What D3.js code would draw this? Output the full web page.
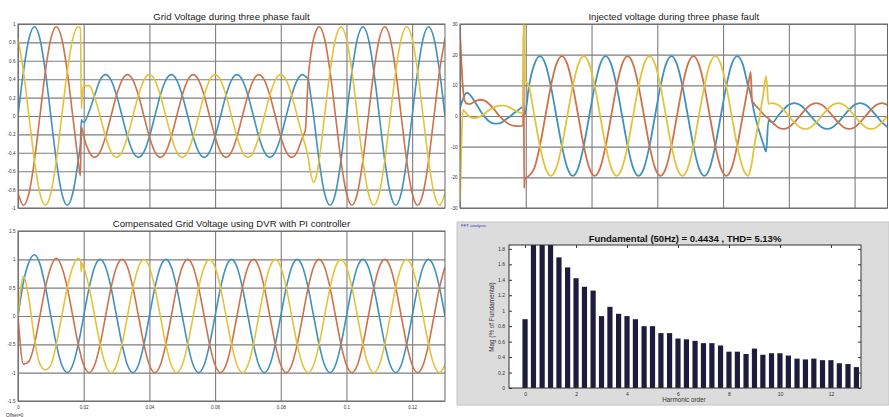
<!DOCTYPE html>
<html>
<head>
<meta charset="utf-8">
<script src="https://cdn.jsdelivr.net/npm/d3@7"></script>
<style>
  body { margin: 0; background: #fff; }
  svg { display: block; }
  text { font-family: "Liberation Sans", Arial, sans-serif; }
</style>
</head>
<body>
<svg id="chart" width="889" height="417"></svg>
<script>
// ---------- Grid voltage during three phase fault (pu), time in ms ----------
const gridT = [0, 1.67, 3.33, 5, 6.67, 8.33, 10, 11.67, 13.33, 15, 16.67, 18.33,
  19.0, 19.3, 19.6,
  20, 21.67, 23.33, 25, 26.67, 28.33, 30, 31.67, 33.33, 35, 36.67, 38.33,
  40, 41.67, 43.33, 45, 46.67, 48.33, 50, 51.67, 53.33, 55, 56.67, 58.33,
  60, 61.67, 63.33, 65, 66.67, 68.33, 70, 71.67, 73.33, 75, 76.67, 78.33,
  80, 81.67, 83.33, 85, 86.67,
  87.5, 88.33, 89.2, 90, 90.8, 91.67, 93.33, 95, 96.67, 98.33,
  100, 101.67, 103.33, 105, 106.67, 108.33, 110, 111.67, 113.33, 115, 116.67, 118.33,
  120, 121.67, 123.33, 125, 126.67, 128.33, 130];
const gridA = [0, .485, .84, .97, .84, .485, 0, -.485, -.84, -.97, -.84, -.485,
  -.30, -.04, -.06,
  -.07, .05, .225, .39, .45, .39, .225, 0, -.225, -.39, -.45, -.39,
  -.225, 0, .225, .39, .45, .39, .225, 0, -.225, -.39, -.45, -.39,
  -.225, 0, .225, .39, .45, .39, .225, 0, -.225, -.39, -.45, -.39,
  -.225, 0, .225, .39, .45,
  .43, .4, .2, 0, -.24, -.485, -.84, -.97, -.84, -.485,
  0, .485, .84, .97, .84, .485, 0, -.485, -.84, -.97, -.84, -.485,
  0, .485, .84, .97, .84, .485, 0];
const gridB = [-.84, -.97, -.84, -.485, 0, .485, .84, .97, .84, .485, 0, -.485,
  -.65, -.12, -.15,
  -.22, -.39, -.45, -.39, -.225, 0, .225, .39, .45, .39, .225, 0,
  -.225, -.39, -.45, -.39, -.225, 0, .225, .39, .45, .39, .225, 0,
  -.225, -.39, -.45, -.39, -.225, 0, .225, .39, .45, .39, .225, 0,
  -.225, -.39, -.45, -.39, -.225,
  -.15, .4, .68, .84, .93, .97, .84, .485, 0, -.485,
  -.84, -.97, -.84, -.485, 0, .485, .84, .97, .84, .485, 0, -.485,
  -.84, -.97, -.84, -.485, 0, .485, .84];
const gridC = [.84, .485, 0, -.485, -.84, -.97, -.84, -.485, 0, .485, .84, .97,
  .95, .08, .25,
  .33, .33, .2, 0, -.225, -.39, -.45, -.39, -.225, 0, .225, .39,
  .45, .39, .225, 0, -.225, -.39, -.45, -.39, -.225, 0, .225, .39,
  .45, .39, .225, 0, -.225, -.39, -.45, -.39, -.225, 0, .225, .39,
  .45, .39, .225, 0, -.225,
  -.32, -.45, -.64, -.72, -.66, -.485, 0, .485, .84, .97,
  .84, .485, 0, -.485, -.84, -.97, -.84, -.485, 0, .485, .84, .97,
  .84, .485, 0, -.485, -.84, -.97, -.84];

// ---------- Injected voltage during three phase fault (V), time in ms ----------
const injT = [0, 0.4, 0.9, 1.4, 2.1, 3, 4.3, 6, 7.5, 9, 10.5, 12, 13.5, 15, 16.5, 18, 19.2,
  19.35, 19.5, 19.7,
  20.97, 22.63, 24.3, 25.97, 27.63, 29.3, 30.97, 32.63, 34.3, 35.97, 37.63, 39.3,
  40.97, 42.63, 44.3, 45.97, 47.63, 49.3, 50.97, 52.63, 54.3, 55.97, 57.63, 59.3,
  60.97, 62.63, 64.3, 65.97, 67.63, 69.3, 70.97, 72.63, 74.3, 75.97, 77.63, 79.3,
  80.97, 82.63, 84.3, 85.97, 87.63,
  88.4, 88.8, 89.3, 91, 92.2, 93.1, 93.8,
  95, 96.67, 98.33, 100, 101.67, 103.33, 105, 106.67, 108.33, 110, 111.67, 113.33,
  115, 116.67, 118.33, 120, 121.67, 123.33, 125, 126.67, 128.33, 130];
const injA = [2.6, 4, 5.5, 6.8, 7.6, 7.0, 5, 2, -0.3, -1.9, -2.5, -2.4, -1.5, -0.3, 1, 2.2, 3,
  2.5, 1, 0.5,
  9.75, 16.9, 19.5, 16.9, 9.75, 0, -9.75, -16.9, -19.5, -16.9, -9.75, 0,
  9.75, 16.9, 19.5, 16.9, 9.75, 0, -9.75, -16.9, -19.5, -16.9, -9.75, 0,
  9.75, 16.9, 19.5, 16.9, 9.75, 0, -9.75, -16.9, -19.5, -16.9, -9.75, 0,
  9.75, 16.9, 19.5, 16.9, 9.75,
  7, 5, 2, -5, -9, -11.6, -1.5,
  -2.1, 0, 2.1, 3.64, 4.2, 3.64, 2.1, 0, -2.1, -3.64, -4.2, -3.64,
  -2.1, 0, 2.1, 3.64, 4.2, 3.64, 2.1, 0, -2.1, -3.64];
const injB = [27, 18, 9, 5, 4, 3.9, 4.6, 5.3, 5, 3.8, 2, 0, -1.6, -2.7, -3.2, -3.3, -3,
  26, -23.5, -20.5,
  -19.5, -16.9, -9.75, 0, 9.75, 16.9, 19.5, 16.9, 9.75, 0, -9.75, -16.9,
  -19.5, -16.9, -9.75, 0, 9.75, 16.9, 19.5, 16.9, 9.75, 0, -9.75, -16.9,
  -19.5, -16.9, -9.75, 0, 9.75, 16.9, 19.5, 16.9, 9.75, 0, -9.75, -16.9,
  -19.5, -16.9, -9.75, 0, 9.75,
  14.4, 5, 4.2, 2.2, 0.6, -0.2, -0.8,
  -2.1, -3.64, -4.2, -3.64, -2.1, 0, 2.1, 3.64, 4.2, 3.64, 2.1, 0,
  -2.1, -3.64, -4.2, -3.64, -2.1, 0, 2.1, 3.64, 4.2, 3.64];
const injC = [-28, -10, 2, 1.5, 0.6, -0.3, -0.7, -0.2, 0.8, 2, 2.9, 3.4, 3.4, 2.8, 2, 1.2, 1,
  33, 31, 12,
  9.75, 0, -9.75, -16.9, -19.5, -16.9, -9.75, 0, 9.75, 16.9, 19.5, 16.9,
  9.75, 0, -9.75, -16.9, -19.5, -16.9, -9.75, 0, 9.75, 16.9, 19.5, 16.9,
  9.75, 0, -9.75, -16.9, -19.5, -16.9, -9.75, 0, 9.75, 16.9, 19.5, 16.9,
  9.75, 0, -9.75, -16.9, -19.5,
  -17, -15, -11, -1, 7, 13, 4,
  4.2, 3.64, 2.1, 0, -2.1, -3.64, -4.2, -3.64, -2.1, 0, 2.1, 3.64,
  4.2, 3.64, 2.1, 0, -2.1, -3.64, -4.2, -3.64, -2.1, 0];

// ---------- Compensated grid voltage (pu), time in ms ----------
const compT = [0, 1.67, 3.33, 5, 6.67, 8.33, 10, 11.67, 13.33, 15, 16.67, 18.33,
  19.1, 19.25, 19.5,
  20, 21.67, 23.33, 25, 26.67, 28.33, 30, 31.67, 33.33, 35, 36.67, 38.33,
  40, 41.67, 43.33, 45, 46.67, 48.33, 50, 51.67, 53.33, 55, 56.67, 58.33,
  60, 61.67, 63.33, 65, 66.67, 68.33, 70, 71.67, 73.33, 75, 76.67, 78.33,
  80, 81.67, 83.33, 85, 86.67, 88.33, 90, 91.67, 93.33, 95, 96.67, 98.33,
  100, 101.67, 103.33, 105, 106.67, 108.33, 110, 111.67, 113.33, 115, 116.67, 118.33,
  120, 121.67, 123.33, 125, 126.67, 128.33, 130];
const compA = [0, .6, .95, 1.08, .92, .52, 0, -.5, -.866, -1, -.866, -.5,
  -.28, -.23, -.16,
  0, .5, .866, 1, .866, .5, 0, -.5, -.866, -1, -.866, -.5,
  0, .5, .866, 1, .866, .5, 0, -.5, -.866, -1, -.866, -.5,
  0, .5, .866, 1, .866, .5, 0, -.5, -.866, -1, -.866, -.5,
  0, .5, .866, 1, .866, .5, 0, -.5, -.866, -1, -.866, -.5,
  0, .5, .866, 1, .866, .5, 0, -.5, -.866, -1, -.866, -.5,
  0, .5, .866, 1, .866, .5, 0];
const compB = [0, -.85, -.8, -.5, 0, .5, .866, 1.02, .866, .5, 0, -.5,
  -.69, -.73, -.78,
  -.866, -1, -.866, -.5, 0, .5, .866, 1, .866, .5, 0, -.5,
  -.866, -1, -.866, -.5, 0, .5, .866, 1, .866, .5, 0, -.5,
  -.866, -1, -.866, -.5, 0, .5, .866, 1, .866, .5, 0, -.5,
  -.866, -1, -.866, -.5, 0, .5, .866, 1, .866, .5, 0, -.5,
  -.866, -1, -.866, -.5, 0, .5, .866, 1, .866, .5, 0, -.5,
  -.866, -1, -.866, -.5, 0, .5, .866];
const compC = [0, .7, .3, -.4, -.85, -.95, -.866, -.5, 0, .5, .866, 1.02,
  .97, .78, .93,
  .866, .5, 0, -.5, -.866, -1, -.866, -.5, 0, .5, .866, 1,
  .866, .5, 0, -.5, -.866, -1, -.866, -.5, 0, .5, .866, 1,
  .866, .5, 0, -.5, -.866, -1, -.866, -.5, 0, .5, .866, 1,
  .866, .5, 0, -.5, -.866, -1, -.866, -.5, 0, .5, .866, 1,
  .866, .5, 0, -.5, -.866, -1, -.866, -.5, 0, .5, .866, 1,
  .866, .5, 0, -.5, -.866, -1, -.866];

// ---------- FFT analysis of the grid voltage ----------
const harmonicOrder = [0, 0.33, 0.67, 1, 1.33, 1.67, 2, 2.33, 2.67, 3, 3.33, 3.67, 4, 4.33,
  4.67, 5, 5.33, 5.67, 6, 6.33, 6.67, 7, 7.33, 7.67, 8, 8.33, 8.67, 9, 9.33, 9.67,
  10, 10.33, 10.67, 11, 11.33, 11.67, 12, 12.33, 12.67, 13];
const harmonicMag = [0.89, 2.9, 2.5, 2.1, 1.69, 1.56, 1.42, 1.31, 1.26, 0.93, 1.05, 0.96, 0.93, 0.89,
  0.80, 0.80, 0.71, 0.71, 0.64, 0.63, 0.61, 0.58, 0.58, 0.55, 0.47, 0.47, 0.44, 0.51, 0.43, 0.45,
  0.45, 0.42, 0.38, 0.37, 0.38, 0.36, 0.36, 0.32, 0.31, 0.27];

// ---------- Tick values ----------
const timeTicks = [0, 0.02, 0.04, 0.06, 0.08, 0.1, 0.12];
const gridTicks = [-1, -0.8, -0.6, -0.4, -0.2, 0, 0.2, 0.4, 0.6, 0.8, 1];
const injTicks = [-30, -20, -10, 0, 10, 20, 30];
const compTicks = [-1.5, -1, -0.5, 0, 0.5, 1, 1.5];
const fftXTicks = [0, 2, 4, 6, 8, 10, 12];
const fftYTicks = [0, 0.2, 0.4, 0.6, 0.8, 1, 1.2, 1.4, 1.6, 1.8];

const phaseColors = ["#3f92be", "#d0714a", "#e3c33c"];
const svg = d3.select("#chart");

function scope(cfg) {
  const { id, x0, x1, y0, y1, ydom, yTicks, title, titleY, t, series, xLabels, lw } = cfg;
  const x = d3.scaleLinear().domain([0, 0.13]).range([x0, x1]);
  const y = d3.scaleLinear().domain(ydom).range([y1, y0]);
  const w = x1 - x0, h = y1 - y0;
  const g = svg.append("g");

  g.append("rect").attr("x", x0).attr("y", y0).attr("width", w).attr("height", h).attr("fill", "#fff");

  const ya = g.append("g").attr("transform", `translate(${x0},0)`)
    .call(d3.axisLeft(y).tickValues(yTicks).tickSize(-w).tickPadding(2.5).tickFormat(d => String(d)));
  ya.select(".domain").remove();
  ya.selectAll("line").attr("stroke", "#7e7e7e").attr("stroke-width", 1.1);
  ya.selectAll("text").attr("font-size", 4.6).attr("fill", "#333");

  const xa = g.append("g").attr("transform", `translate(0,${y1})`)
    .call(d3.axisBottom(x).tickValues(timeTicks).tickSize(-h).tickPadding(4.5)
      .tickFormat(d => xLabels ? String(d) : ""));
  xa.select(".domain").remove();
  xa.selectAll("line").attr("stroke", "#7e7e7e").attr("stroke-width", 1.1);
  xa.selectAll("text").attr("font-size", 4.6).attr("fill", "#333");

  g.append("clipPath").attr("id", id).append("rect")
    .attr("x", x0).attr("y", y0).attr("width", w).attr("height", h);

  const line = d3.line()
    .x((d, i) => x(t[i] / 1000))
    .y(d => y(d))
    .curve(d3.curveMonotoneX);

  series.forEach((vals, j) => {
    g.append("path").datum(vals)
      .attr("clip-path", `url(#${id})`)
      .attr("fill", "none")
      .attr("stroke", phaseColors[j])
      .attr("stroke-width", lw)
      .attr("stroke-linejoin", "round")
      .attr("d", line);
  });

  g.append("rect").attr("x", x0).attr("y", y0).attr("width", w).attr("height", h)
    .attr("fill", "none").attr("stroke", "#666").attr("stroke-width", 1);

  g.append("text").attr("x", (x0 + x1) / 2).attr("y", titleY)
    .attr("text-anchor", "middle").attr("font-size", 9.6).attr("fill", "#222")
    .text(title);
}

scope({ id: "clipGrid", x0: 18, x1: 445, y0: 24, y1: 208, ydom: [-1, 1], yTicks: gridTicks,
  title: "Grid Voltage during three phase fault", titleY: 19.5,
  t: gridT, series: [gridA, gridB, gridC], xLabels: false, lw: 1.6 });

scope({ id: "clipInj", x0: 460, x1: 887.5, y0: 24, y1: 208, ydom: [-30, 30], yTicks: injTicks,
  title: "Injected voltage during three phase fault", titleY: 19.5,
  t: injT, series: [injA, injB, injC], xLabels: false, lw: 1.8 });

scope({ id: "clipComp", x0: 18, x1: 445, y0: 231, y1: 401, ydom: [-1.5, 1.5], yTicks: compTicks,
  title: "Compensated Grid Voltage using DVR with PI controller", titleY: 227,
  t: compT, series: [compA, compB, compC], xLabels: true, lw: 1.6 });

svg.append("text").attr("x", 6).attr("y", 416.5).attr("font-size", 4.6).attr("fill", "#333")
  .text("Offset=0");

// ---------- FFT window ----------
const fft = svg.append("g");
fft.append("rect").attr("x", 457).attr("y", 222).attr("width", 432).attr("height", 183)
  .attr("fill", "#dcdcdc").attr("stroke", "#c4c4c4").attr("stroke-width", 1);
fft.append("text").attr("x", 461).attr("y", 227).attr("font-size", 4.4).attr("fill", "#3535b8")
  .text("FFT analysis");

const fx = d3.scaleLinear().domain([-0.63, 13.18]).range([509, 861]);
const fy = d3.scaleLinear().domain([0, 1.85]).range([388, 245]);

fft.append("rect").attr("x", 509).attr("y", 245).attr("width", 352).attr("height", 143).attr("fill", "#fff");
fft.append("clipPath").attr("id", "clipFft").append("rect")
  .attr("x", 509).attr("y", 245).attr("width", 352).attr("height", 143);

fft.append("g").attr("clip-path", "url(#clipFft)")
  .selectAll("rect").data(harmonicMag).join("rect")
  .attr("x", (d, i) => fx(harmonicOrder[i]) - 2.6)
  .attr("width", 5.2)
  .attr("y", d => fy(d))
  .attr("height", d => fy(0) - fy(d))
  .attr("fill", "#1d1c3d");

const tickStyle = sel => {
  sel.select(".domain").remove();
  sel.selectAll("line").attr("stroke", "#333");
  sel.selectAll("text").attr("font-size", 5).attr("fill", "#333");
};
fft.append("g").attr("transform", "translate(0,388)")
  .call(d3.axisBottom(fx).tickValues(fftXTicks).tickSize(-3).tickPadding(4.5)).call(tickStyle);
fft.append("g").attr("transform", "translate(0,245)")
  .call(d3.axisTop(fx).tickValues(fftXTicks).tickSize(-3).tickFormat("")).call(tickStyle);
fft.append("g").attr("transform", "translate(509,0)")
  .call(d3.axisLeft(fy).tickValues(fftYTicks).tickSize(-3).tickPadding(4).tickFormat(d => String(d))).call(tickStyle);
fft.append("g").attr("transform", "translate(861,0)")
  .call(d3.axisRight(fy).tickValues(fftYTicks).tickSize(-3).tickFormat("")).call(tickStyle);

fft.append("rect").attr("x", 509).attr("y", 245).attr("width", 352).attr("height", 143)
  .attr("fill", "none").attr("stroke", "#333").attr("stroke-width", 1);

fft.append("text").attr("x", 685).attr("y", 241.5).attr("text-anchor", "middle")
  .attr("font-size", 9.5).attr("font-weight", "bold").attr("fill", "#111")
  .text("Fundamental (50Hz) = 0.4434 , THD= 5.13%");
fft.append("text").attr("x", 684).attr("y", 401.5).attr("text-anchor", "middle")
  .attr("font-size", 6.3).attr("fill", "#333").text("Harmonic order");
fft.append("text").attr("transform", "translate(494,317) rotate(-90)").attr("text-anchor", "middle")
  .attr("font-size", 6.3).attr("fill", "#333").text("Mag (% of Fundamental)");
</script>
</body>
</html>
